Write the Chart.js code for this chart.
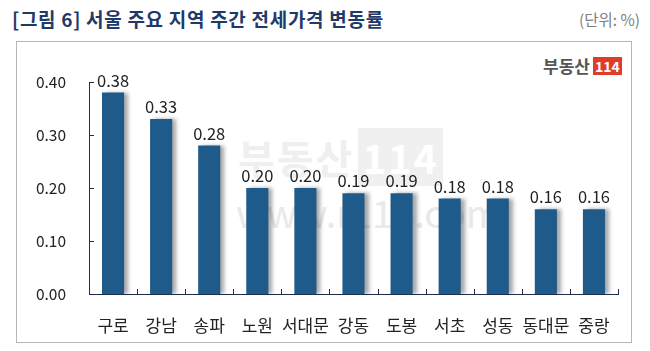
<!DOCTYPE html>
<html>
<head>
<meta charset="utf-8">
<script src="https://cdn.jsdelivr.net/npm/chart.js@4"></script>
<style>
  html, body { margin: 0; padding: 0; background: #fff; }
  body { width: 650px; height: 351px; position: relative; overflow: hidden; font-family: "Noto Sans CJK KR", sans-serif; }
  .title { position: absolute; left: 12px; top: 5px; font-size: 19px; font-weight: bold; color: #1f3a68; letter-spacing: 0.7px; }
  .unit { position: absolute; right: 10px; top: 8px; font-size: 15.5px; color: #808080; }
  .frame { position: absolute; left: 16px; top: 41px; width: 614px; height: 300px; border: 1px solid #b5b5b5; }
  .logo { position: absolute; left: 543px; top: 53px; font-size: 17px; font-weight: bold; color: #555; letter-spacing: 0px; }
  .logo span { display: inline-block; background: #e23b2b; color: #fff; font-size: 14px; padding: 0 2px; margin-left: 3px; line-height: 18px; vertical-align: 1px; }
  .wm { position: absolute; color: #efefef; font-weight: bold; }
  .wm1 { left: 238px; top: 128px; font-size: 40px; letter-spacing: 2px; }
  .wm1 span { display: inline-block; background: #f0f0f0; color: #fff; padding: 0 4px; margin-left: 4px; }
  .wm2 { left: 236px; top: 184px; font-size: 38px; font-weight: normal; color: #e9e9e9; }
  canvas { position: absolute; left: 0; top: 0; }
</style>
</head>
<body>
<div class="title">[그림 6] 서울 주요 지역 주간 전세가격 변동률</div>
<div class="unit">(단위: %)</div>
<div class="frame"></div>
<div class="logo">부동산<span>114</span></div>
<div class="wm wm1">부동산<span>114</span></div>
<div class="wm wm2">www.r114.com</div>
<canvas id="chart" width="650" height="351"></canvas>
<script>
const regions = ['구로', '강남', '송파', '노원', '서대문', '강동', '도봉', '서초', '성동', '동대문', '중랑']
const changes = [0.38, 0.33, 0.28, 0.20, 0.20, 0.19, 0.19, 0.18, 0.18, 0.16, 0.16]
const yTicks = [0, 0.1, 0.2, 0.3, 0.4]

const axisColor = '#1f2d4d'
const barColor = '#1f5b8a'
const font = '"Noto Sans CJK KR", sans-serif'

// bar shadow
const shadowPlugin = {
  id: 'shadow',
  beforeDatasetDraw(chart) {
    const ctx = chart.ctx
    ctx.save()
    ctx.shadowColor = 'rgba(0,0,0,0.35)'
    ctx.shadowOffsetX = 4
    ctx.shadowOffsetY = 0
    ctx.shadowBlur = 4
  },
  afterDatasetDraw(chart) {
    chart.ctx.restore()
  }
}

// inward tick marks + value labels
const decoPlugin = {
  id: 'deco',
  afterDraw(chart) {
    const ctx = chart.ctx
    const { left, right, bottom } = chart.chartArea
    const y = chart.scales.y
    ctx.save()
    ctx.strokeStyle = axisColor
    ctx.lineWidth = 1
    ctx.beginPath()
    yTicks.forEach(v => {
      const py = Math.round(y.getPixelForValue(v)) + 0.5
      ctx.moveTo(left, py)
      ctx.lineTo(left + 5, py)
    })
    const n = regions.length
    for (let i = 0; i <= n; i++) {
      const px = Math.round(left + i * (right - left) / n) + 0.5
      ctx.moveTo(px, bottom)
      ctx.lineTo(px, bottom - 5)
    }
    ctx.stroke()

    ctx.fillStyle = '#222'
    ctx.font = '16.5px ' + font
    ctx.textAlign = 'center'
    ctx.textBaseline = 'bottom'
    chart.getDatasetMeta(0).data.forEach((bar, i) => {
      ctx.fillText(changes[i].toFixed(2), bar.x, bar.y - 4)
    })
    ctx.restore()
  }
}

new Chart(document.getElementById('chart'), {
  type: 'bar',
  data: {
    labels: regions,
    datasets: [{
      data: changes,
      backgroundColor: barColor,
      barPercentage: 0.46,
      categoryPercentage: 1
    }]
  },
  options: {
    responsive: false,
    animation: false,
    layout: { padding: { top: 82, right: 32, left: 0, bottom: 0 } },
    plugins: { legend: { display: false }, tooltip: { enabled: false } },
    scales: {
      x: {
        grid: { display: false },
        border: { display: true, color: axisColor, width: 1 },
        ticks: { color: '#222', padding: 13, maxRotation: 0, minRotation: 0, autoSkip: false, font: { size: 17, family: font } },
        afterFit: s => { s.height = 57 }
      },
      y: {
        min: 0,
        max: 0.4,
        grid: { display: false, drawTicks: false },
        border: { display: true, color: axisColor, width: 1 },
        ticks: {
          stepSize: 0.1,
          padding: 23,
          color: '#222',
          font: { size: 15.5, family: font },
          callback: v => v.toFixed(2)
        },
        afterFit: s => { s.width = 89 }
      }
    }
  },
  plugins: [shadowPlugin, decoPlugin]
})
</script>
</body>
</html>
